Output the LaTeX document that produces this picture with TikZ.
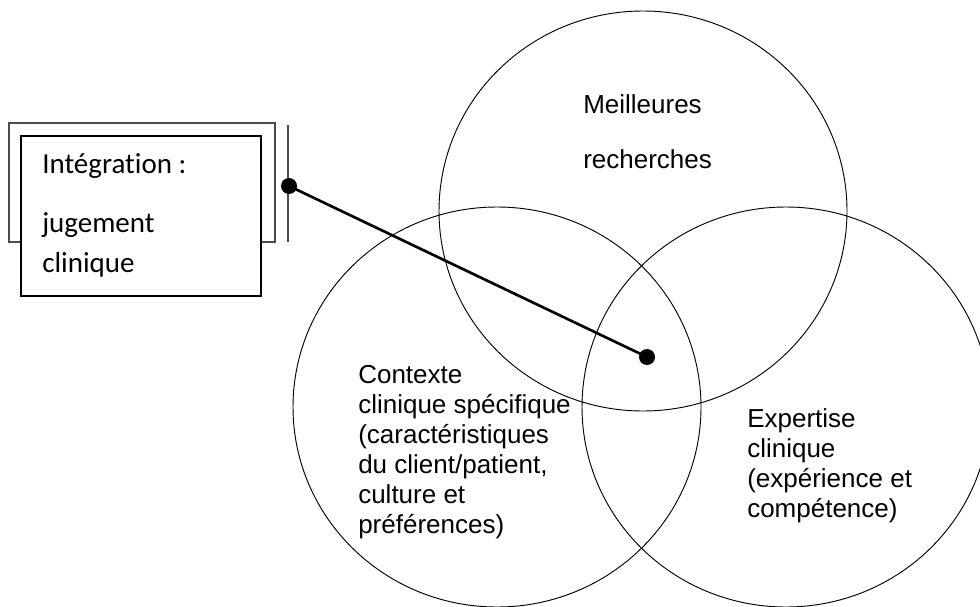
\documentclass[tikz,border=0pt]{standalone}
\usepackage{fontspec}
\setmainfont{Liberation Sans}
\newfontfamily\calibrifont[Ligatures=NoCommon]{Carlito}
\usepackage{tikz}

\begin{document}
\begin{tikzpicture}[x=0.75pt, y=-0.75pt,
  venn/.style={draw, line width=0.7pt},
  circletext/.style={anchor=base west, inner sep=0pt, align=left,
    font=\fontsize{19.5}{22.5}\selectfont},
  dot/.style={circle, fill=black, inner sep=0pt, minimum size=12pt}]
\useasboundingbox (0,0) rectangle (980,606);
\clip (0,0) rectangle (980,606);
% the three circles
\draw [venn] (643,211) ellipse [x radius=204, y radius=200];
\draw [venn] (497,407) ellipse [x radius=204, y radius=200];
\draw [venn] (786,407) ellipse [x radius=204, y radius=200];
% the framed box
\draw [black!70, line width=1pt] (9,123) rectangle (275,242);
\draw [black, line width=1pt, fill=white] (21,136) rectangle (261,296);
\draw [black!70, line width=1pt] (288,125) -- (288,242);
% (base = last line)
\node [circletext, font=\calibrifont\fontsize{21.75}{30}\selectfont] (integ) at (42,272) {Int\'egration :\\[14pt]jugement\\clinique};
% labels of the circles
\node [circletext] (recherche) at (583,168) {Meilleures\\[18.75pt]recherches};
\node [circletext] (contexte) at (358,533) {Contexte\\clinique sp\'ecifique\\(caract\'eristiques\\du client/patient,\\culture et\\pr\'ef\'erences)};
\node [circletext] (expertise) at (747,517) {Expertise\\clinique\\(exp\'erience et\\comp\'etence)};
% connector
\node [dot] (from) at (289,186) {};
\node [dot] (to) at (647,357) {};
\draw [line width=2pt] (from.center) -- (to.center);
\end{tikzpicture}
\end{document}
